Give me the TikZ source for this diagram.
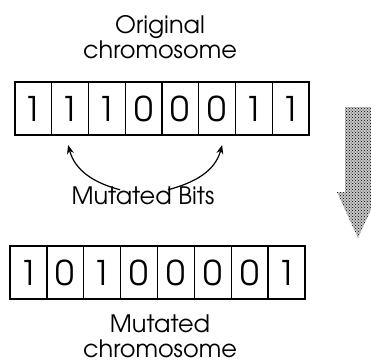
\documentclass[tikz,border=0pt]{standalone}
\usepackage{fontspec}
\setmainfont{texgyreadventor-regular.otf}
\usepackage{tikz}
\usetikzlibrary{arrows.meta, positioning, patterns}

\begin{document}
\begin{tikzpicture}[
    x=1pt, y=1pt,
    every node/.style={font=\fontsize{24}{25}\selectfont},
    bit/.style={
        draw, line width=1.4pt,
        inner sep=0pt, outer sep=0pt,
        minimum width=36.8pt, minimum height=53pt,
        font=\fontsize{34}{34}\selectfont
    },
    caption/.style={align=center, inner sep=1pt},
    flip/.style={-{Stealth[length=9pt, width=7pt]}, line width=1.2pt},
    bigarrow/.style={pattern=crosshatch dots, pattern color=black},
]
\useasboundingbox (0,0) rectangle (371,362);
\clip (0,0) rectangle (371,362);

% ── original chromosome ──
\node[caption] (origlabel) at (160,324.5) {Original\\chromosome};
\foreach \b [count=\i] in {1,1,1,0,0,0,1,1}
    \node[bit] (o\i) at ({15+36.75*(\i-0.5)},253.5) {\b};

% ── mutation ──
\node[caption] (bits) at (143,166) {Mutated Bits};
\draw[flip] ([xshift=-23pt, yshift=-4pt]bits.north) to[out=165, in=-75] ([xshift=-2pt, yshift=-10pt]o2.south);
\draw[flip] ([xshift=25pt, yshift=-4pt]bits.north) to[out=15, in=-105] ([xshift=5pt, yshift=-10pt]o6.south);

% ── mutated chromosome ──
\foreach \b [count=\i] in {1,0,1,0,0,0,0,1}
    \node[bit] (m\i) at ({10+36.875*(\i-0.5)},89.5) {\b};
\node[caption] (mutlabel) at (160,25.5) {Mutated\\chromosome};

% ── direction arrow ──
\fill[gray!45] (345,255) -- (372,255) -- (372,170) -- (379,170)
    -- (358,124) -- (337,170) -- (345,170) -- cycle;
\fill[bigarrow] (345,255) -- (372,255) -- (372,170) -- (379,170)
    -- (358,124) -- (337,170) -- (345,170) -- cycle;

\end{tikzpicture}
\end{document}
